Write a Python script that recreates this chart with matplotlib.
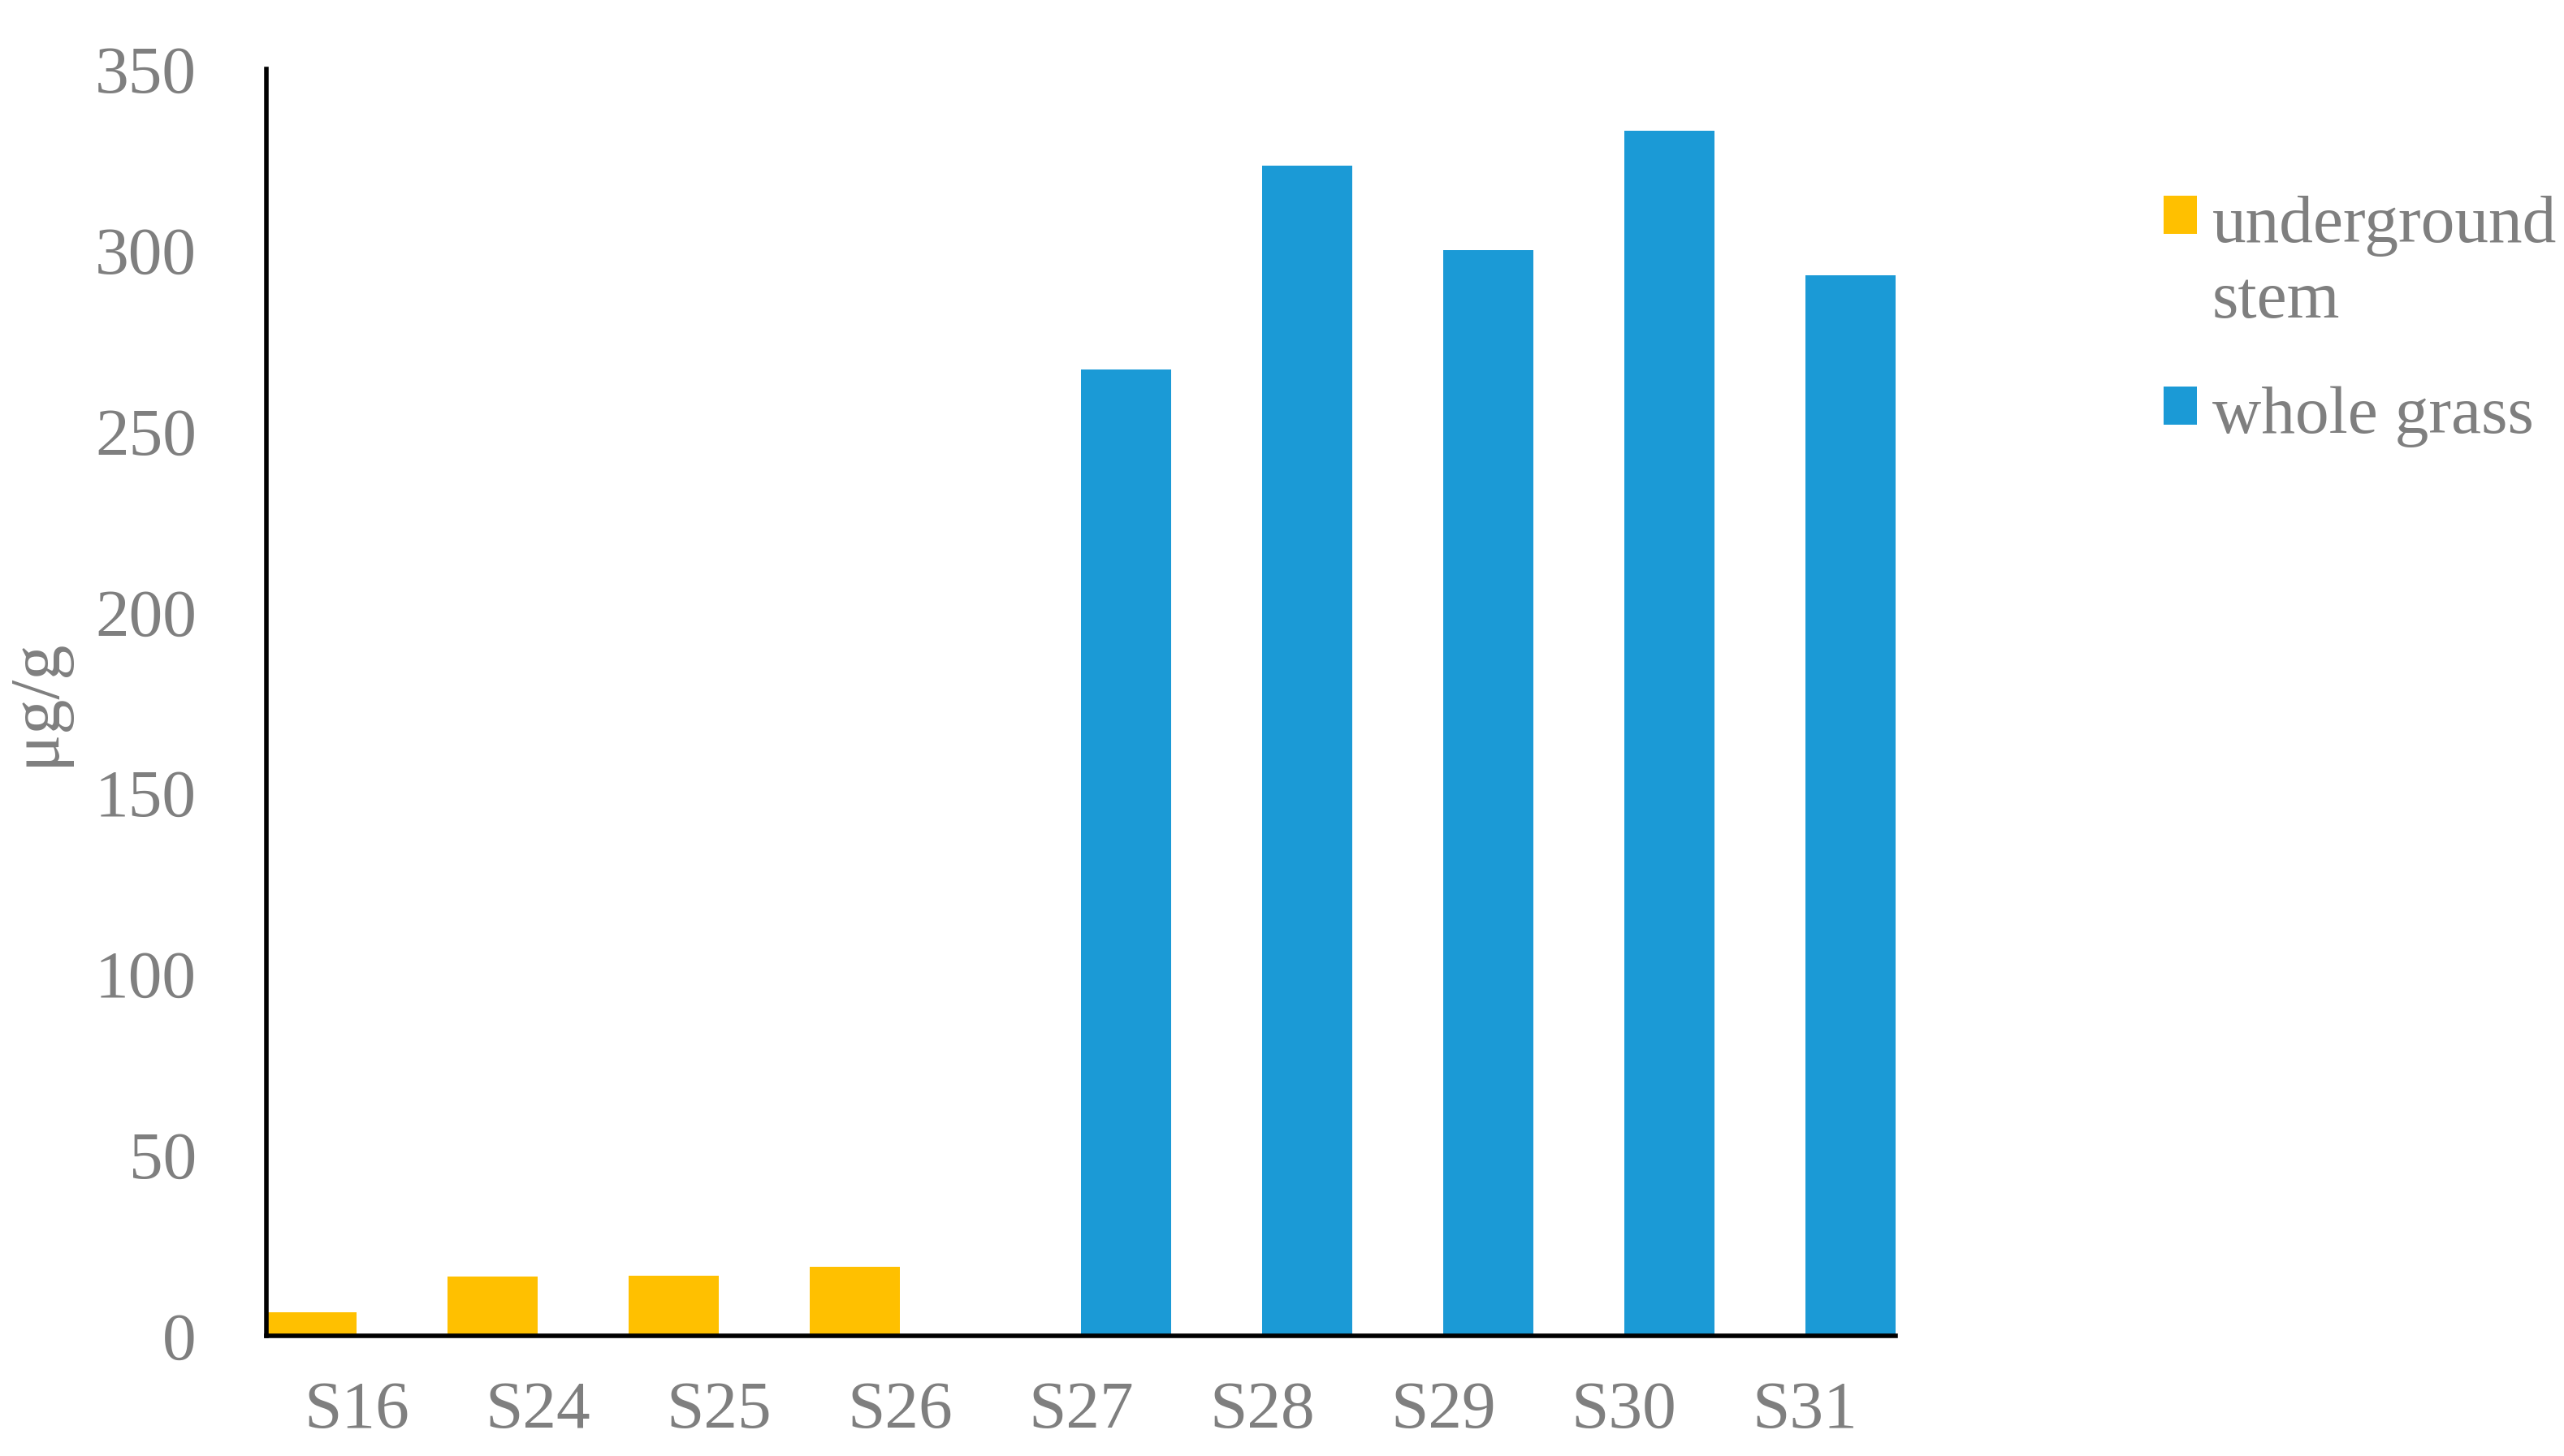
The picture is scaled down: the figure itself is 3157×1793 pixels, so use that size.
import matplotlib
matplotlib.use("Agg")
import matplotlib.pyplot as plt
import numpy as np

# data
categories = ['S16', 'S24', 'S25', 'S26', 'S27', 'S28', 'S29', 'S30', 'S31']
underground_stem = [6.6, 16.5, 16.7, 19.0, 0, 0, 0, 0, 0]
whole_grass = [0, 0, 0, 0, 267, 323.4, 300, 333, 293]
series_names = ['underground\nstem', 'whole grass']
yticks = [0, 50, 100, 150, 200, 250, 300, 350]

text_grey = '#7f7f7f'
plt.rcParams['font.family'] = ['Liberation Serif', 'DejaVu Serif']
plt.rcParams['font.size'] = 60

fig = plt.figure(figsize=(31.57, 17.93), dpi=100)
ax = fig.add_axes([0.1039, 0.0825, 0.6354, 0.870])

x = np.arange(len(categories))
w = 0.5
ax.bar(x - w / 2, underground_stem, w, color='#ffc000', label=series_names[0])
ax.bar(x + w / 2, whole_grass, w, color='#1b9ad6', label=series_names[1])

ax.set_xlim(-0.5, len(categories) - 0.5)
ax.set_ylim(0, 350)
ax.set_yticks(yticks)
ax.set_xticks(x)
ax.set_xticklabels(categories)
ax.tick_params(axis='both', length=0, colors=text_grey, labelsize=60)
ax.tick_params(axis='y', pad=62)
ax.tick_params(axis='x', pad=40)

for s in ['top', 'right']:
    ax.spines[s].set_visible(False)
for s in ['left', 'bottom']:
    ax.spines[s].set_linewidth(4)
    ax.spines[s].set_color('black')

ax.set_ylabel('μg/g', color=text_grey, fontsize=62)
ax.yaxis.set_label_coords(-0.121, 0.5)

leg = ax.legend(loc='upper left', bbox_to_anchor=(0.8305, 0.889),
                bbox_transform=fig.transFigure, frameon=False,
                handlelength=0.5, handleheight=0.5, handletextpad=0.22,
                labelspacing=0.8, borderpad=0, fontsize=60)
for t in leg.get_texts():
    t.set_color(text_grey)
    t.set_linespacing(1.3)
# put the square next to the first line of a two-line label
for col in leg._legend_handle_box.get_children():
    for item in col.get_children():
        item.align = 'top'

fig.savefig('out.png', dpi=100)
